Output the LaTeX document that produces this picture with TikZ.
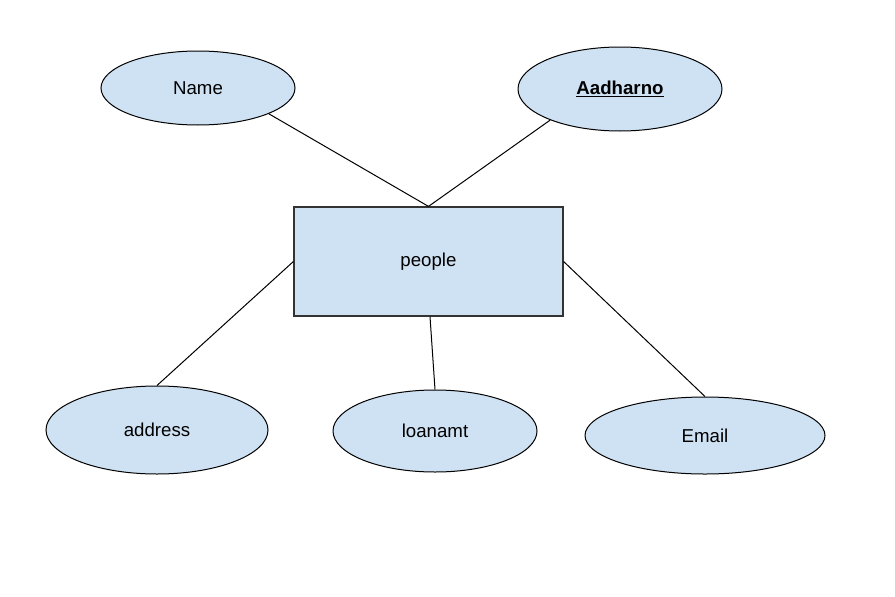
\documentclass[tikz,border=0pt]{standalone}
\usepackage{fontspec}
\setmainfont{Liberation Sans}
\usetikzlibrary{shapes.geometric}
\definecolor{attrfill}{HTML}{CFE2F3}
\tikzset{
  attr/.style={ellipse, draw=black, fill=attrfill, line width=0.75pt, inner sep=0pt, font=\fontsize{14}{16}\selectfont},
  entity/.style={rectangle, draw=black!80, fill=attrfill, line width=0.9pt, inner sep=0pt, font=\fontsize{14}{16}\selectfont},
  link/.style={draw=black, line width=0.75pt}
}
\begin{document}
\begin{tikzpicture}[x=0.75pt, y=-0.75pt]
\useasboundingbox (0,0) rectangle (895,596);
\node[entity, minimum width=269*0.75pt, minimum height=109*0.75pt] (people) at (428.5,261.5) {people};
\node[attr, minimum width=194*0.75pt, minimum height=74*0.75pt] (name) at (198,88) {Name};
\node[attr, minimum width=204*0.75pt, minimum height=84*0.75pt] (aadhar) at (620,89) {\textbf{\underline{Aadharno}}};
\node[attr, minimum width=222*0.75pt, minimum height=88*0.75pt] (address) at (157,430) {address};
\node[attr, minimum width=204*0.75pt, minimum height=82*0.75pt] (loan) at (435,431) {loanamt};
\node[attr, minimum width=240*0.75pt, minimum height=77*0.75pt] (email) at (705,435.5) {Email};
\draw[link] (name.-20) -- (people.north);
\draw[link] (aadhar.-156) -- (people.north);
\draw[link] (address.north) -- (people.west);
\draw[link] (loan.north) -- ([xshift=1.5*0.75pt]people.south);
\draw[link] (email.north) -- (people.east);
\end{tikzpicture}
\end{document}
